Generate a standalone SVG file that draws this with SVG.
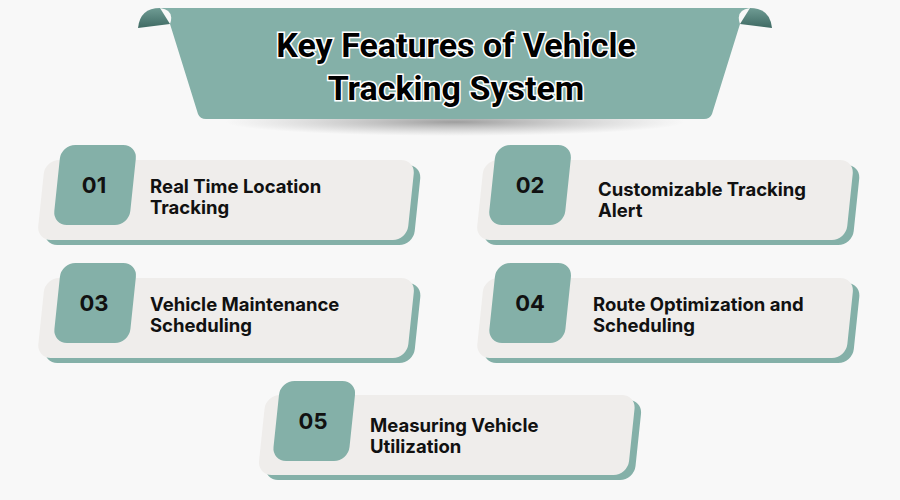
<svg xmlns="http://www.w3.org/2000/svg" width="900" height="500" viewBox="0 0 900 500">
<defs>
<style>
.c{fill:#efedeb}.s{fill:#84b0a8}.q{fill:#84b0a8}
.n{font-family:Inter,"Liberation Sans",sans-serif;font-weight:700;font-size:22px;fill:#111}
.t{font-family:Inter,"Liberation Sans",sans-serif;font-weight:700;font-size:18.5px;fill:#111}
.h{font-family:Roboto,"Liberation Sans",sans-serif;font-weight:700;font-size:34px;fill:#000;stroke:#fff;stroke-width:3;paint-order:stroke}
</style>
<radialGradient id="sh" cx="0.5" cy="0.5" r="0.5"><stop offset="0" stop-color="#777" stop-opacity="0.7"/><stop offset="1" stop-color="#999" stop-opacity="0"/></radialGradient>
<linearGradient id="curl" x1="0" y1="0" x2="0" y2="1"><stop offset="0" stop-color="#6f9c94"/><stop offset="1" stop-color="#3f6a63"/></linearGradient>
</defs>
<rect width="900" height="500" fill="#f8f8f8"/>
<g id="title">
<ellipse cx="455" cy="122" rx="230" ry="14" fill="url(#sh)"/>
<path d="M138 28 Q140 8 160 8 L170 24 Z" fill="url(#curl)"/>
<path d="M772 28 Q770 8 750 8 L740 24 Z" fill="url(#curl)"/>
<path d="M160 8 L750 8 Q735 10 740 24 L712 114 Q710 119 704 119 L206 119 Q200 119 198 114 L170 24 Q175 10 160 8 Z" fill="#84b0a8"/>
<text class="h" x="456" y="57" text-anchor="middle">Key Features of Vehicle</text>
<text class="h" x="456" y="100" text-anchor="middle">Tracking System</text>
</g>
<g id="n1">
<rect class="s" x="48" y="165" width="370" height="80" rx="14" transform="skewX(-6) translate(21 0)"/>
<rect class="c" x="41" y="160" width="370" height="80" rx="14" transform="skewX(-6) translate(21 0)"/>
<rect class="q" x="57" y="145" width="76" height="80" rx="14" transform="skewX(-6) translate(19.5 0)"/>
<text class="n" x="94" y="193" text-anchor="middle">01</text>
<text class="t" x="150" y="193">Real Time Location</text><text class="t" x="150" y="214">Tracking</text>
</g>
<g id="n2">
<rect class="s" x="487" y="165" width="370" height="80" rx="14" transform="skewX(-6) translate(21 0)"/>
<rect class="c" x="480" y="160" width="370" height="80" rx="14" transform="skewX(-6) translate(21 0)"/>
<rect class="q" x="492" y="145" width="76" height="80" rx="14" transform="skewX(-6) translate(19.5 0)"/>
<text class="n" x="530" y="193" text-anchor="middle">02</text>
<text class="t" x="598" y="196">Customizable Tracking</text><text class="t" x="598" y="217">Alert</text>
</g>
<g id="n3">
<rect class="s" x="48" y="283" width="370" height="80" rx="14" transform="skewX(-6) translate(33.5 0)"/>
<rect class="c" x="41" y="278" width="370" height="80" rx="14" transform="skewX(-6) translate(33.5 0)"/>
<rect class="q" x="57" y="263" width="76" height="80" rx="14" transform="skewX(-6) translate(32 0)"/>
<text class="n" x="94" y="311" text-anchor="middle">03</text>
<text class="t" x="150" y="311">Vehicle Maintenance</text><text class="t" x="150" y="332">Scheduling</text>
</g>
<g id="n4">
<rect class="s" x="487" y="283" width="370" height="80" rx="14" transform="skewX(-6) translate(33.5 0)"/>
<rect class="c" x="480" y="278" width="370" height="80" rx="14" transform="skewX(-6) translate(33.5 0)"/>
<rect class="q" x="492" y="263" width="76" height="80" rx="14" transform="skewX(-6) translate(32 0)"/>
<text class="n" x="530" y="311" text-anchor="middle">04</text>
<text class="t" x="593" y="311">Route Optimization and</text><text class="t" x="593" y="332">Scheduling</text>
</g>
<g id="n5">
<rect class="s" x="269" y="400" width="370" height="80" rx="14" transform="skewX(-6) translate(45.5 0)"/>
<rect class="c" x="262" y="395" width="370" height="80" rx="14" transform="skewX(-6) translate(45.5 0)"/>
<rect class="q" x="276" y="381" width="76" height="80" rx="14" transform="skewX(-6) translate(44.5 0)"/>
<text class="n" x="313" y="429" text-anchor="middle">05</text>
<text class="t" x="370" y="432">Measuring Vehicle</text><text class="t" x="370" y="453">Utilization</text>
</g>
<g id="connectors"/>
</svg>
